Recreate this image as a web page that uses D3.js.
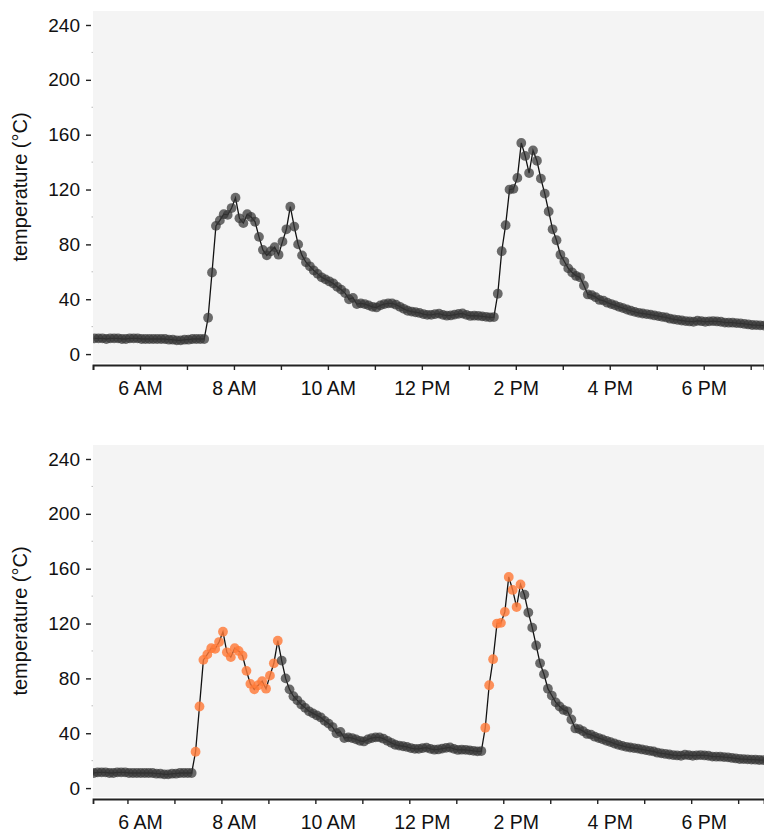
<!DOCTYPE html>
<html><head><meta charset="utf-8">
<script src="https://cdn.jsdelivr.net/npm/d3@7"></script>
<style>
body{margin:0;background:#fff;}
text{font-family:"Liberation Sans",Arial,Helvetica,sans-serif;}
</style>
</head><body>
<svg id="chart" width="764" height="832"></svg>
<script>
// ---- data (5-minute samples) ----
const startTime = "05:02";
const stepMinutes = 5;
const temperature = [
  11.5,11.5,11.5,11,11.5,11.5,11.5,11,11,11.5,
  11.5,11.5,11,11,11,11,11,11,11,10.5,
  10.5,10,10,10.5,10.5,11,11,11,11,26.5,
  59.5,93.5,97.5,102,101.5,106.5,114,99,95.5,102,
  100,96.5,85.5,76,72,75,78,72.5,82,91,
  107.5,93,80,72,67,64,61,58.5,56,54.5,
  53,51.5,49,47,44.5,40,41,36.5,37,36.5,
  35.5,34.5,34,35.5,36.5,37,37,36,34.5,33,
  31.6,31,30.5,30,29.2,28.6,28.6,29.2,29.5,28.6,
  28,28.2,28.8,29.3,29.6,28.6,27.8,28,27.9,27.5,
  27.2,26.8,27,44,75,94,120,120.5,128.5,154,
  144.5,132,148.5,141,128,117,104,91,83,72.5,
  67.5,62.5,59.5,57,56,50,43.5,43,41.5,39.5,
  39,37.5,36.5,35.5,34.5,33.5,32.5,31.6,30.8,30.1,
  29.6,29.2,28.8,28.2,27.7,27.2,26.7,25.8,25.3,24.9,
  24.5,24.1,23.8,23.6,24.3,24,23.6,23.9,24.1,23.8,
  23.6,23,22.9,22.9,22.6,22.4,22,21.6,21.2,21.1,
  21,20.8,20.7,20.5,20.4,20.3
];
const highlightRanges = [[29, 50], [103, 112]];   // sample indices shown in orange (lower panel)
const yTicks = [0, 40, 80, 120, 160, 200, 240];
const yMinorTicks = [20, 60, 100, 140, 180, 220];
const yLabel = "temperature (°C)";
const panelOffsets = [0, 434];          // vertical offset of each panel
const panelStartShift = [0, 16];        // minutes the x-domain start is shifted
const panelHighlight = [false, true];

// ---- layout ----
const plotLeft = 93, plotRight = 764, plotTop = 11, plotBottom = 363;
const domainMinutes = 857;
const dotR = 4.9;
const grayFill = "#353535", orangeFill = "#ff7a38";

const parseT = d3.timeParse("%H:%M");
const t0 = parseT(startTime);
const data = temperature.map((v, i) => ({
  t: d3.timeMinute.offset(t0, i * stepMinutes), v, i,
  hi: highlightRanges.some(([a, b]) => i >= a && i <= b)
}));
const base = parseT("05:00");

const svg = d3.select("#chart");
const fmt = d3.timeFormat("%-I %p");

panelOffsets.forEach((off, p) => {
  const g = svg.append("g").attr("transform", `translate(0,${off})`);
  const x = d3.scaleTime()
    .domain([d3.timeMinute.offset(base, panelStartShift[p]), d3.timeMinute.offset(base, panelStartShift[p] + domainMinutes)])
    .range([plotLeft, plotRight]);
  const y = d3.scaleLinear().domain([-6.5, 250.2]).range([plotBottom, plotTop]);

  g.append("rect").attr("x", plotLeft).attr("y", plotTop)
    .attr("width", plotRight - plotLeft).attr("height", plotBottom - plotTop)
    .attr("fill", "#f4f4f4");

  const clipId = "clip" + p;
  g.append("clipPath").attr("id", clipId).append("rect")
    .attr("x", plotLeft).attr("y", plotTop - 10)
    .attr("width", plotRight - plotLeft).attr("height", plotBottom - plotTop + 10);

  // y axis
  const yAxis = d3.axisLeft(y).tickValues(yTicks).tickSize(5).tickPadding(6);
  const ya = g.append("g").attr("transform", `translate(91,0)`).call(yAxis);
  ya.select(".domain").remove();
  ya.selectAll(".tick line").attr("stroke", "#222").attr("stroke-width", 1.4);
  ya.selectAll(".tick text").attr("font-size", 19).attr("fill", "#111");

  // minor y ticks (faint)
  g.append("g").selectAll("line").data(yMinorTicks).join("line")
    .attr("x1", 91.5).attr("x2", 93).attr("y1", d => y(d)).attr("y2", d => y(d))
    .attr("stroke", "#bbb").attr("stroke-width", 1);

  // x axis
  const xAxis = d3.axisBottom(x).ticks(d3.timeHour.every(1)).tickSize(5).tickSizeOuter(5)
    .tickPadding(11).tickFormat(d => d.getHours() % 2 === 0 ? fmt(d) : "");
  const xa = g.append("g").attr("transform", `translate(0,365)`).call(xAxis);
  xa.select(".domain").attr("stroke", "#222").attr("stroke-width", 1.8);
  xa.selectAll(".tick line").attr("stroke", "#222").attr("stroke-width", 1.4);
  xa.selectAll(".tick text").attr("font-size", 19.5).attr("fill", "#111")
    .attr("dx", (panelStartShift[p] / 60) * (plotRight - plotLeft) / (domainMinutes / 60));

  // y label
  g.append("text")
    .attr("transform", `translate(20,${(plotTop + plotBottom) / 2}) rotate(-90)`)
    .attr("text-anchor", "middle").attr("dominant-baseline", "central")
    .attr("font-size", 20).attr("fill", "#111").text(yLabel);

  // data
  const dg = g.append("g").attr("clip-path", `url(#${clipId})`);
  const line = d3.line().x(d => x(d.t)).y(d => y(d.v));
  dg.append("path").datum(data).attr("d", line)
    .attr("fill", "none").attr("stroke", "#111").attr("stroke-width", 1.3);
  dg.selectAll("circle").data(data).join("circle")
    .attr("cx", d => x(d.t)).attr("cy", d => y(d.v)).attr("r", dotR)
    .attr("fill", d => (panelHighlight[p] && d.hi) ? orangeFill : grayFill)
    .attr("fill-opacity", d => (panelHighlight[p] && d.hi) ? 0.82 : 0.72);
});
</script>
</body></html>
